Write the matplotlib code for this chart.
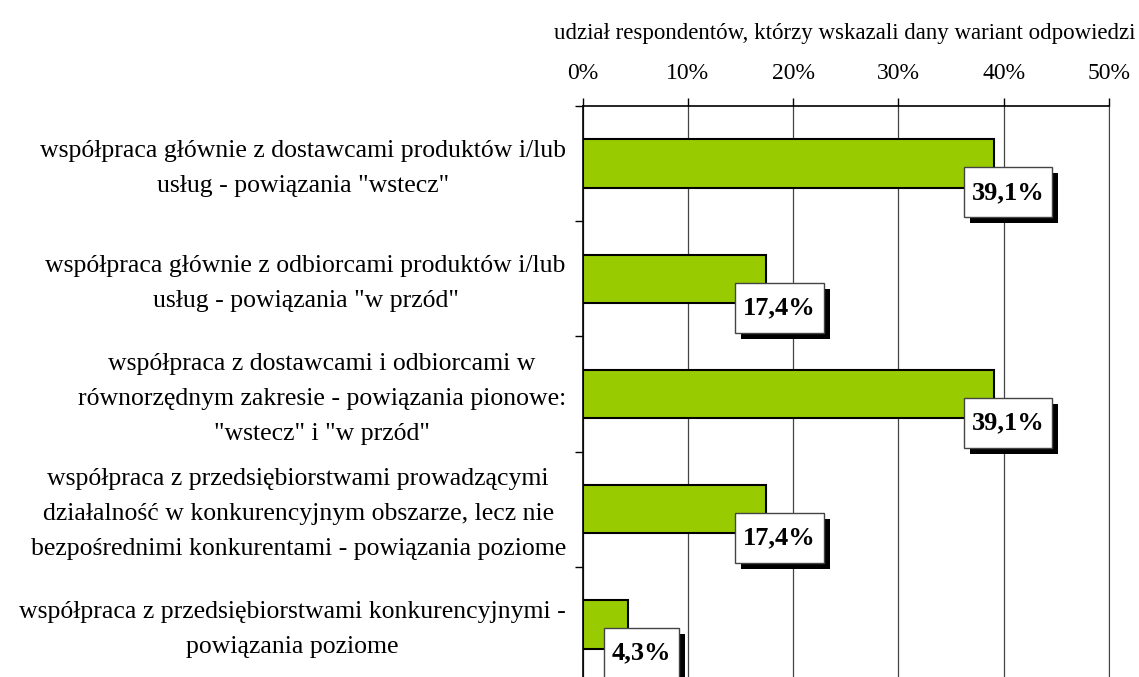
import matplotlib
matplotlib.use("Agg")
import matplotlib.pyplot as plt
import matplotlib.patheffects as pe
from matplotlib.patches import Rectangle
from matplotlib.transforms import IdentityTransform, ScaledTranslation
import numpy as np

# dane z wykresu
kategorie = [
    'współpraca głównie z dostawcami produktów i/lub\nusług - powiązania "wstecz"',
    'współpraca głównie z odbiorcami produktów i/lub\nusług - powiązania "w przód"',
    'współpraca z dostawcami i odbiorcami w\nrównorzędnym zakresie - powiązania pionowe:\n"wstecz" i "w przód"',
    'współpraca z przedsiębiorstwami prowadzącymi\ndziałalność w konkurencyjnym obszarze, lecz nie\nbezpośrednimi konkurentami - powiązania poziome',
    'współpraca z przedsiębiorstwami konkurencyjnymi -\npowiązania poziome',
]
udzialy = [39.1, 17.4, 39.1, 17.4, 4.3]
etykiety = ["39,1%", "17,4%", "39,1%", "17,4%", "4,3%"]
os_x = [0, 10, 20, 30, 40, 50]
os_x_etykiety = ["0%", "10%", "20%", "30%", "40%", "50%"]
tytul_osi = "udział respondentów, którzy wskazali dany wariant odpowiedzi"

plt.rcParams["font.family"] = ["Liberation Serif", "DejaVu Serif"]

W, H = 1139, 677
fig = plt.figure(figsize=(W / 100, H / 100), dpi=100)
ax = fig.add_axes([582.5 / W, -5 / H, (1109 - 582.5) / W, (682 - 106) / H])

y = np.arange(len(udzialy))
ax.barh(y, udzialy, height=0.42, color="#99CC00", edgecolor="black", linewidth=1.5, zorder=3)

ax.set_xlim(0, 50)
ax.set_ylim(len(udzialy) - 0.5, -0.5)

# os x na gorze
ax.xaxis.tick_top()
ax.set_xticks(os_x)
ax.set_xticklabels(os_x_etykiety, fontsize=17)
ax.tick_params(axis="x", direction="out", length=6, width=1, pad=10, color="black")
ax.grid(axis="x", color="#444444", linewidth=0.9, zorder=0)

# os y: etykiety kategorii i kreski na granicach
ax.set_yticks(y)
ax.set_yticklabels(kategorie, fontsize=18.5, multialignment="center", linespacing=1.75)
ax.tick_params(axis="y", which="major", length=0, pad=12)
ax.set_yticks(np.arange(len(udzialy) + 1) - 0.5, minor=True)
ax.tick_params(axis="y", which="minor", direction="out", length=6, width=1, color="black")
przesun = ScaledTranslation(0, 0.04, fig.dpi_scale_trans)
for lab in ax.get_yticklabels():
    lab.set_transform(lab.get_transform() + przesun)

ax.spines["bottom"].set_visible(False)
ax.spines["right"].set_color("#444444")
ax.spines["left"].set_linewidth(1.2)
ax.spines["top"].set_linewidth(1.2)

fig.text(1135 / W, 1 - 33 / H, tytul_osi, ha="right", va="center", fontsize=16.5)

# etykiety wartosci w ramkach z cieniem
teksty = []
for yi, v, t in zip(y, udzialy, etykiety):
    txt = ax.text(v + 1.3, yi + 0.25, t, ha="center", va="center", fontsize=19,
                  fontweight="bold", zorder=6, clip_on=False)
    teksty.append(txt)

fig.canvas.draw()
r = fig.canvas.get_renderer()
for txt in teksty:
    bb = txt.get_window_extent(r)
    cx, cy = (bb.x0 + bb.x1) / 2, (bb.y0 + bb.y1) / 2
    bw, bh = bb.width + 16, 50
    box = Rectangle((cx - bw / 2, cy - bh / 2), bw, bh, transform=IdentityTransform(),
                    facecolor="white", edgecolor="#444444", linewidth=1, zorder=5,
                    clip_on=False)
    box.set_path_effects([
        pe.SimplePatchShadow(offset=(4.3, -4.3), shadow_rgbFace="black", alpha=1.0),
        pe.Normal(),
    ])
    ax.add_patch(box)

fig.savefig("out.png", dpi=100)
